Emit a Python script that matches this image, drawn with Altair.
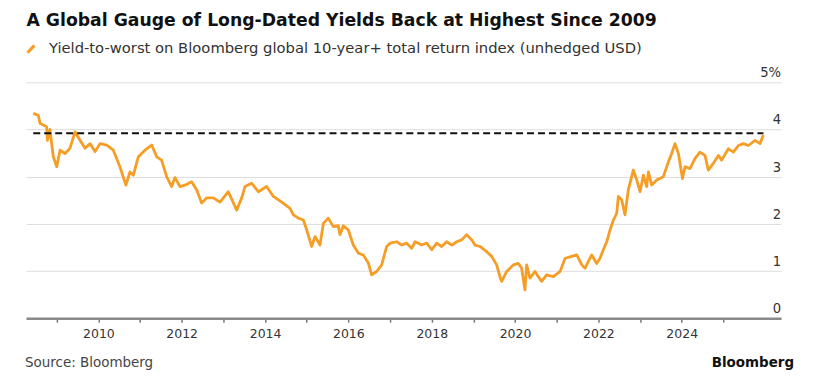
import altair as alt
import pandas as pd

# ---- data (decimal year, yield %) ----
years = [2008.44, 2008.56, 2008.60, 2008.76, 2008.78, 2008.84, 2008.92, 2009.00, 2009.08, 2009.20,
         2009.32, 2009.44, 2009.56, 2009.68, 2009.80, 2009.92, 2010.04, 2010.20, 2010.36, 2010.52,
         2010.66, 2010.76, 2010.84, 2010.96, 2011.12, 2011.28, 2011.40, 2011.52, 2011.64, 2011.76,
         2011.84, 2011.96, 2012.08, 2012.24, 2012.36, 2012.48, 2012.60, 2012.76, 2012.92, 2013.12,
         2013.32, 2013.44, 2013.52, 2013.68, 2013.84, 2014.04, 2014.20, 2014.40, 2014.60, 2014.68,
         2014.80, 2014.92, 2015.00, 2015.12, 2015.20, 2015.32, 2015.40, 2015.52, 2015.64, 2015.76,
         2015.80, 2015.88, 2016.00, 2016.12, 2016.24, 2016.36, 2016.48, 2016.56, 2016.68, 2016.80,
         2016.92, 2017.00, 2017.16, 2017.28, 2017.40, 2017.52, 2017.60, 2017.76, 2017.88, 2018.00,
         2018.12, 2018.24, 2018.36, 2018.48, 2018.60, 2018.72, 2018.84, 2018.96, 2019.04, 2019.16,
         2019.32, 2019.44, 2019.56, 2019.64, 2019.68, 2019.80, 2019.96, 2020.08, 2020.16, 2020.24,
         2020.28, 2020.36, 2020.48, 2020.56, 2020.64, 2020.76, 2020.92, 2021.08, 2021.20, 2021.36,
         2021.48, 2021.60, 2021.68, 2021.84, 2021.96, 2022.04, 2022.12, 2022.20, 2022.28, 2022.36,
         2022.44, 2022.48, 2022.56, 2022.64, 2022.72, 2022.84, 2022.92, 2023.00, 2023.08, 2023.16,
         2023.20, 2023.28, 2023.40, 2023.56, 2023.68, 2023.76, 2023.84, 2023.92, 2024.02, 2024.08,
         2024.20, 2024.32, 2024.44, 2024.56, 2024.64, 2024.76, 2024.88, 2024.96, 2025.12, 2025.24,
         2025.36, 2025.48, 2025.60, 2025.76, 2025.88, 2025.96]
yields = [4.34, 4.30, 4.13, 4.06, 3.77, 4.00, 3.42, 3.21, 3.56, 3.49,
          3.60, 3.95, 3.77, 3.60, 3.70, 3.53, 3.70, 3.67, 3.56, 3.21,
          2.82, 3.10, 3.03, 3.42, 3.56, 3.67, 3.42, 3.35, 3.00, 2.79,
          2.98, 2.79, 2.82, 2.89, 2.72, 2.44, 2.55, 2.55, 2.46, 2.68,
          2.29, 2.55, 2.79, 2.86, 2.68, 2.79, 2.58, 2.46, 2.33, 2.19,
          2.12, 2.08, 1.87, 1.52, 1.73, 1.55, 2.01, 2.12, 1.94, 1.96,
          1.77, 1.96, 1.87, 1.55, 1.38, 1.34, 1.17, 0.92, 0.99, 1.13,
          1.52, 1.59, 1.62, 1.55, 1.59, 1.48, 1.62, 1.55, 1.59, 1.45,
          1.59, 1.52, 1.62, 1.55, 1.62, 1.66, 1.77, 1.66, 1.55, 1.52,
          1.41, 1.31, 1.13, 0.88, 0.78, 0.99, 1.13, 1.16, 1.06, 0.60,
          1.13, 0.85, 0.99, 0.88, 0.78, 0.92, 0.88, 0.99, 1.27, 1.31,
          1.34, 1.13, 1.06, 1.34, 1.16, 1.27, 1.45, 1.62, 1.87, 2.08,
          2.22, 2.58, 2.51, 2.19, 2.72, 3.14, 2.93, 2.68, 3.03, 2.79,
          3.10, 2.82, 2.93, 3.00, 3.31, 3.49, 3.70, 3.49, 2.96, 3.21,
          3.17, 3.38, 3.52, 3.45, 3.14, 3.28, 3.45, 3.35, 3.59, 3.52,
          3.66, 3.70, 3.66, 3.77, 3.70, 3.88]

ref_level = 3.92
tick_values = [0, 1, 2, 3, 4, 5]
tick_labels = ["0", "1", "2", "3", "4", "5%"]

title_text = "A Global Gauge of Long-Dated Yields Back at Highest Since 2009"
legend_text = "Yield-to-worst on Bloomberg global 10-year+ total return index (unhedged USD)"
source_text = "Source: Bloomberg"
brand_text = "Bloomberg"


def to_date(y):
    yr = int(y)
    frac = y - yr
    return (pd.Timestamp(f"{yr}-01-01") + pd.Timedelta(days=frac * 365.25)).strftime("%Y-%m-%d")


df = pd.DataFrame({"date": [to_date(y) for y in years], "value": yields})
dash_df = pd.DataFrame({"date": [to_date(years[0]), to_date(years[-1])], "value": [ref_level, ref_level]})
ylab_df = pd.DataFrame({"value": tick_values, "label": tick_labels})

W, H = 757, 236.5
FONT = "DejaVu Sans"
ORANGE = "#F59D25"

xscale = alt.Scale(domain=[alt.DateTime(year=2008, month=4, date=6),
                           alt.DateTime(year=2026, month=5, date=21)])
yscale = alt.Scale(domain=[0, 5], nice=False, zero=True)

xaxis = alt.Axis(
    title=None,
    values=[alt.DateTime(year=y, month=1, date=1) for y in range(2009, 2026)],
    labelExpr="year(datum.value) % 2 == 0 ? timeFormat(datum.value, '%Y') : ''",
    grid=False,
    domainColor="#8a8a8a", domainWidth=2.5,
    tickColor="#777777", tickSize=4, tickWidth=1.5,
    labelFont=FONT, labelFontSize=12.5, labelColor="#333333", labelPadding=5,
    labelFlush=False,
)
yaxis = alt.Axis(
    title=None, orient="right", values=[1, 2, 3, 4, 5], grid=True,
    gridColor="#dddddd", gridWidth=1, labels=False, ticks=False, domain=False,
)

X = alt.X("date:T", scale=xscale, axis=xaxis)
Y = alt.Y("value:Q", scale=yscale, axis=yaxis)

line = alt.Chart(df).mark_line(color=ORANGE, strokeWidth=2.8, strokeJoin="round").encode(x=X, y=Y)
dashed = alt.Chart(dash_df).mark_line(color="#111111", strokeWidth=2, strokeDash=[7, 4]).encode(x=X, y=Y)
ylabels = alt.Chart(ylab_df).mark_text(
    align="right", baseline="alphabetic", dy=-5, font=FONT, fontSize=13.2, color="#333333"
).encode(x=alt.value(W), y=Y, text="label:N")


def txt(s, x, y, size, weight="normal", color="#333333", align="left"):
    return alt.Chart(pd.DataFrame({"t": [s]})).mark_text(
        align=align, baseline="alphabetic", font=FONT, fontSize=size, fontWeight=weight, color=color
    ).encode(x=alt.value(x), y=alt.value(y), text="t:N")


title = txt(title_text, 0.5, -56, 17.3, "bold", "#111111")
legend = txt(legend_text, 23, -29, 14.8, "normal", "#333333")
source = txt(source_text, -1, 285, 13.5, "normal", "#444444")
brand = txt(brand_text, 770, 285, 13.5, "bold", "#111111", "right")
icon = alt.Chart(pd.DataFrame({"a": [0]})).mark_rule(color=ORANGE, strokeWidth=3).encode(
    x=alt.value(1.5), x2=alt.value(8.5), y=alt.value(-29.5), y2=alt.value(-37)
)

chart = alt.layer(line, dashed, ylabels, title, legend, source, brand, icon).properties(
    width=W, height=H, autosize="none",
    padding={"left": 18, "top": 74, "right": 30, "bottom": 60},
).configure_view(stroke=None)

chart.save("out.html", embed_options={"renderer": "svg", "actions": False})
